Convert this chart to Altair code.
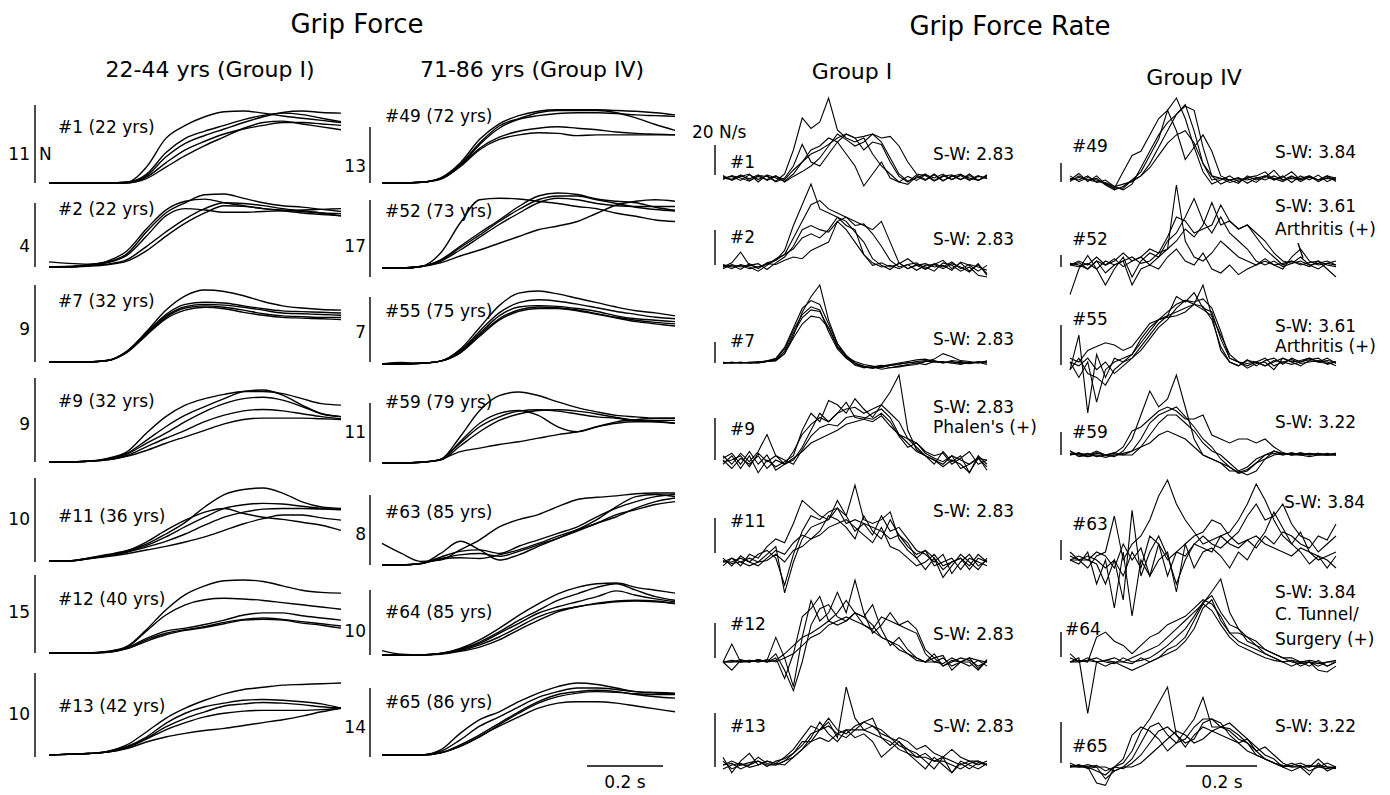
import altair as alt
import pandas as pd

FONT = "DejaVu Sans"
T_END = 0.75
FORCE_DT = 0.05
RATE_DT = 0.025

# ---------------- Grip force traces (normalised to each panel's largest trace) ----------------
gf_s01 = [[0,0,0,0,0.01,0.22,0.62,0.8,0.92,0.99,1.0,0.97,0.93,0.9,0.87,0.84],
          [0,0,0,0,0.01,0.12,0.42,0.62,0.72,0.8,0.88,0.94,0.97,0.95,0.9,0.85],
          [0,0,0,0,0.01,0.1,0.36,0.55,0.66,0.75,0.84,0.92,0.98,1.0,0.98,0.97],
          [0,0,0,0,0.0,0.08,0.28,0.46,0.58,0.68,0.75,0.8,0.84,0.84,0.82,0.8],
          [0,0,0,0,0.0,0.06,0.22,0.38,0.52,0.64,0.76,0.84,0.86,0.82,0.78,0.74]]
gf_s02 = [[0.07,0.05,0.04,0.07,0.18,0.48,0.74,0.88,0.99,1.0,0.94,0.88,0.84,0.82,0.79,0.76],
          [0.0,0.01,0.03,0.08,0.22,0.52,0.78,0.9,0.93,0.88,0.84,0.8,0.78,0.76,0.74,0.73],
          [0.0,0.0,0.02,0.06,0.16,0.42,0.7,0.8,0.78,0.75,0.75,0.76,0.77,0.78,0.79,0.8],
          [0.0,0.0,0.02,0.04,0.1,0.28,0.48,0.66,0.8,0.88,0.87,0.84,0.8,0.77,0.74,0.7],
          [0.0,0.0,0.01,0.03,0.08,0.22,0.42,0.6,0.74,0.84,0.83,0.8,0.77,0.74,0.72,0.7]]
gf_s07 = [[0,0,0,0.02,0.15,0.42,0.72,0.92,1.0,0.98,0.92,0.84,0.78,0.75,0.73,0.72],
          [0,0,0,0.02,0.15,0.4,0.66,0.8,0.83,0.82,0.78,0.74,0.71,0.7,0.69,0.68],
          [0,0,0,0.02,0.14,0.4,0.64,0.77,0.8,0.79,0.76,0.72,0.68,0.67,0.66,0.65],
          [0,0,0,0.02,0.14,0.38,0.62,0.75,0.78,0.76,0.72,0.67,0.64,0.63,0.62,0.62],
          [0,0,0,0.02,0.13,0.37,0.6,0.72,0.76,0.74,0.69,0.65,0.62,0.61,0.6,0.59]]
gf_s09 = [[0,0,0.01,0.05,0.14,0.4,0.63,0.79,0.88,0.94,0.98,0.98,0.95,0.88,0.81,0.79],
          [0,0,0.01,0.04,0.12,0.3,0.49,0.65,0.77,0.88,0.98,1.0,0.93,0.79,0.67,0.63],
          [0,0,0.01,0.04,0.11,0.26,0.4,0.56,0.7,0.81,0.88,0.9,0.86,0.77,0.67,0.63],
          [0,0,0.01,0.03,0.09,0.21,0.33,0.44,0.56,0.65,0.71,0.73,0.71,0.67,0.63,0.6],
          [0,0,0.01,0.03,0.08,0.16,0.26,0.35,0.44,0.53,0.59,0.61,0.61,0.61,0.6,0.59]]
gf_s11 = [[0,0,0.04,0.09,0.14,0.23,0.37,0.53,0.74,0.91,0.98,1.0,0.93,0.81,0.74,0.72],
          [0,0,0.04,0.08,0.14,0.26,0.42,0.56,0.67,0.72,0.65,0.6,0.57,0.53,0.49,0.42],
          [0,0,0.03,0.08,0.13,0.21,0.33,0.47,0.6,0.72,0.77,0.79,0.78,0.75,0.72,0.7],
          [0,0,0.03,0.07,0.12,0.19,0.27,0.37,0.49,0.6,0.67,0.71,0.72,0.72,0.71,0.71],
          [0,0,0.03,0.06,0.1,0.15,0.2,0.26,0.33,0.42,0.51,0.58,0.63,0.63,0.59,0.56]]
gf_s12 = [[0,0,0,0.02,0.09,0.32,0.59,0.8,0.92,0.99,1.0,0.98,0.92,0.86,0.83,0.82],
          [0,0,0,0.02,0.08,0.3,0.52,0.66,0.73,0.75,0.74,0.72,0.69,0.66,0.63,0.6],
          [0,0,0,0.01,0.07,0.2,0.3,0.34,0.39,0.45,0.52,0.55,0.55,0.51,0.48,0.45],
          [0,0,0,0.01,0.06,0.18,0.27,0.32,0.36,0.42,0.46,0.48,0.46,0.43,0.4,0.37],
          [0,0,0,0.01,0.06,0.16,0.25,0.31,0.35,0.4,0.45,0.46,0.45,0.41,0.38,0.34]]
gf_s13 = [[0,0.01,0.02,0.05,0.14,0.32,0.51,0.65,0.76,0.85,0.91,0.94,0.97,0.98,0.99,1.0],
          [0,0.01,0.02,0.05,0.12,0.25,0.44,0.58,0.67,0.72,0.76,0.77,0.76,0.74,0.71,0.65],
          [0,0.01,0.02,0.04,0.11,0.23,0.39,0.51,0.6,0.68,0.71,0.73,0.72,0.7,0.67,0.65],
          [0,0.01,0.02,0.04,0.1,0.22,0.35,0.45,0.53,0.58,0.61,0.62,0.62,0.62,0.63,0.65],
          [0,0.01,0.02,0.04,0.09,0.18,0.25,0.3,0.34,0.37,0.41,0.45,0.49,0.54,0.6,0.65]]
gf_s49 = [[0,0,0.01,0.07,0.27,0.59,0.8,0.91,0.97,0.99,0.99,0.99,0.98,0.97,0.95,0.92],
          [0,0,0.01,0.06,0.25,0.54,0.77,0.87,0.95,0.98,0.98,0.98,0.95,0.88,0.79,0.71],
          [0,0,0.01,0.06,0.23,0.52,0.74,0.86,0.91,0.94,0.95,0.95,0.94,0.92,0.91,0.9],
          [0,0,0.01,0.06,0.23,0.47,0.62,0.7,0.74,0.76,0.74,0.72,0.69,0.67,0.66,0.65],
          [0,0,0.01,0.05,0.22,0.45,0.59,0.65,0.68,0.67,0.64,0.65,0.65,0.65,0.65,0.65]]
gf_s52 = [[0,0,0.02,0.2,0.6,0.91,0.93,0.92,0.89,0.86,0.82,0.79,0.73,0.69,0.64,0.62],
          [0,0,0.02,0.11,0.29,0.47,0.64,0.82,0.96,1.0,0.98,0.92,0.89,0.87,0.81,0.77],
          [0,0,0.02,0.1,0.27,0.44,0.62,0.78,0.91,0.96,0.96,0.91,0.86,0.81,0.78,0.76],
          [0,0,0.02,0.09,0.24,0.41,0.58,0.73,0.87,0.93,0.91,0.86,0.83,0.82,0.82,0.82],
          [0,0,0.02,0.07,0.16,0.24,0.33,0.42,0.51,0.56,0.62,0.73,0.84,0.89,0.91,0.89]]
gf_s55 = [[0,0,0.01,0.04,0.2,0.5,0.8,0.97,1.0,0.96,0.9,0.84,0.78,0.73,0.7,0.66],
          [0,0,0.01,0.04,0.18,0.45,0.7,0.84,0.88,0.86,0.82,0.77,0.72,0.68,0.64,0.62],
          [0,0,0.01,0.04,0.17,0.42,0.66,0.78,0.8,0.79,0.76,0.72,0.66,0.62,0.6,0.58],
          [0,0,0.01,0.04,0.16,0.4,0.62,0.74,0.78,0.77,0.74,0.69,0.64,0.6,0.57,0.55],
          [0,0.02,0.01,0.04,0.15,0.38,0.6,0.72,0.76,0.76,0.73,0.68,0.63,0.58,0.55,0.52]]
gf_s59 = [[0,0,0.01,0.05,0.37,0.74,0.95,1.0,0.95,0.86,0.78,0.72,0.67,0.65,0.63,0.63],
          [0,0,0.01,0.05,0.3,0.56,0.7,0.74,0.67,0.51,0.44,0.51,0.58,0.61,0.63,0.63],
          [0,0,0.01,0.05,0.28,0.51,0.65,0.73,0.75,0.73,0.69,0.65,0.63,0.6,0.6,0.6],
          [0,0,0.01,0.04,0.24,0.44,0.6,0.69,0.74,0.75,0.73,0.69,0.64,0.6,0.58,0.56],
          [0,0,0.01,0.05,0.16,0.21,0.26,0.3,0.35,0.4,0.44,0.51,0.56,0.58,0.58,0.56]]
gf_s63 = [[0.3,0.16,0.05,0.07,0.21,0.35,0.53,0.63,0.7,0.81,0.91,0.94,0.96,0.99,1.0,1.0],
          [0,0,0.02,0.16,0.33,0.21,0.07,0.14,0.26,0.37,0.49,0.63,0.81,0.95,0.98,0.95],
          [0,0,0.02,0.11,0.19,0.21,0.16,0.26,0.35,0.44,0.53,0.67,0.79,0.88,0.95,0.98],
          [0,0,0.02,0.09,0.14,0.16,0.12,0.19,0.28,0.37,0.47,0.58,0.67,0.79,0.88,0.93],
          [0,0,0.02,0.08,0.1,0.09,0.14,0.21,0.3,0.4,0.49,0.58,0.7,0.77,0.84,0.88]]
gf_s64 = [[0.06,0.01,0,0.02,0.09,0.21,0.37,0.55,0.71,0.85,0.94,0.99,1.0,0.94,0.9,0.86],
          [0,0,0,0.02,0.08,0.18,0.32,0.48,0.62,0.76,0.85,0.94,0.99,0.9,0.81,0.76],
          [0,0,0,0.02,0.07,0.16,0.3,0.44,0.58,0.67,0.74,0.81,0.89,0.83,0.78,0.74],
          [0,0,0,0.02,0.06,0.14,0.25,0.39,0.53,0.62,0.67,0.71,0.74,0.75,0.74,0.72],
          [0,0,0,0.01,0.05,0.11,0.21,0.35,0.48,0.6,0.67,0.72,0.75,0.76,0.75,0.71]]
gf_s65 = [[0,0,0,0.07,0.3,0.49,0.6,0.74,0.86,0.95,1.0,0.98,0.93,0.88,0.86,0.85],
          [0,0,0,0.05,0.21,0.4,0.53,0.67,0.8,0.88,0.93,0.93,0.91,0.88,0.87,0.86],
          [0,0,0,0.03,0.14,0.28,0.44,0.6,0.74,0.84,0.88,0.9,0.88,0.84,0.81,0.79],
          [0,0,0,0.03,0.12,0.26,0.4,0.53,0.65,0.72,0.74,0.74,0.72,0.68,0.64,0.6],
          [0,0,0,0.03,0.12,0.25,0.42,0.58,0.72,0.81,0.86,0.88,0.87,0.85,0.84,0.84]]

# ---------------- Grip force rate traces (normalised) ----------------
rate_s01 = [[0.0,0.02,-0.03,0.04,-0.02,0.03,-0.04,0.05,0.35,0.75,0.62,0.7,1.0,0.6,0.5,0.45,0.5,0.3,0.15,0.05,-0.05,0.02,-0.03,0.04,0.0,0.05,-0.02,0.03,-0.03,0.02,0.0],
            [0.02,-0.02,0.03,-0.01,0.04,-0.03,0.02,-0.02,0.1,0.2,0.3,0.35,0.42,0.5,0.55,0.5,0.52,0.55,0.5,0.52,0.4,0.2,0.05,0.03,-0.04,0.02,0.04,-0.02,0.03,-0.03,0.02],
            [-0.02,0.03,0.0,-0.04,0.03,0.02,-0.05,0.0,0.15,0.42,0.2,0.15,0.3,0.45,0.55,0.5,0.35,0.45,0.42,0.2,0.02,-0.05,0.04,-0.02,0.05,-0.03,0.02,0.05,-0.02,0.03,-0.01],
            [0.03,-0.03,0.02,0.05,-0.05,0.04,0.0,-0.04,0.05,0.2,0.35,0.4,0.5,0.45,0.3,0.15,-0.1,0.05,0.2,0.0,-0.05,-0.08,0.02,-0.03,0.04,-0.04,0.03,-0.02,0.05,-0.03,0.04],
            [0.0,-0.02,0.04,-0.03,0.02,-0.02,0.03,-0.05,0.02,0.08,0.15,0.25,0.4,0.55,0.48,0.4,0.45,0.55,0.45,0.25,0.05,-0.04,0.0,0.05,-0.03,0.03,-0.02,0.04,0.0,-0.03,0.03]]
rate_s02 = [[0.0,0.05,0.18,0.02,0.0,0.03,0.08,0.2,0.5,0.75,1.0,0.7,0.65,0.6,0.5,0.45,0.15,0.02,0.05,0.0,0.04,0.1,0.02,-0.03,0.03,0.08,-0.02,0.05,-0.05,0.03,-0.08],
            [0.02,-0.02,0.03,0.0,-0.05,0.02,0.1,0.15,0.35,0.55,0.75,0.8,0.7,0.65,0.6,0.55,0.5,0.45,0.55,0.3,0.05,-0.02,0.03,0.0,-0.05,0.05,0.02,-0.05,0.0,-0.1,-0.12],
            [-0.02,0.03,0.0,0.02,0.04,-0.03,0.05,0.12,0.25,0.45,0.5,0.45,0.42,0.55,0.6,0.5,0.52,0.4,0.25,0.08,0.0,0.03,-0.04,0.02,0.03,-0.02,0.04,0.0,-0.06,0.04,-0.1],
            [0.0,0.02,-0.03,0.04,-0.02,0.05,0.08,0.15,0.22,0.35,0.4,0.35,0.45,0.6,0.55,0.42,0.3,0.1,0.02,-0.03,0.05,-0.02,0.02,0.04,0.0,0.02,-0.04,0.06,0.02,-0.05,0.02],
            [0.03,0.0,0.02,-0.02,0.0,0.04,0.03,0.08,0.12,0.1,0.2,0.25,0.3,0.55,0.45,0.3,0.15,0.05,0.0,0.02,-0.02,0.03,0.05,-0.02,0.04,0.0,0.06,-0.02,0.03,0.0,-0.04]]
rate_s07 = [[0,0.01,0,0.01,0.02,0.02,0.03,0.12,0.35,0.65,0.85,1.0,0.55,0.25,0.08,-0.03,-0.06,-0.05,-0.08,-0.06,-0.05,-0.03,-0.02,0.02,0.05,0.12,0.08,0.03,0.02,0.0,0.03],
            [0,0.0,0.01,0.0,0.01,0.03,0.06,0.2,0.45,0.7,0.8,0.75,0.5,0.25,0.1,0.0,-0.06,-0.05,-0.03,-0.06,-0.04,-0.02,0.0,-0.02,0.02,0.0,0.03,0.02,0.0,0.01,-0.02],
            [0.01,0.0,0.0,0.01,0.0,0.02,0.05,0.18,0.42,0.62,0.72,0.68,0.4,0.18,0.06,-0.02,-0.05,-0.07,-0.04,-0.02,0.0,0.02,0.04,0.05,0.02,0.01,0.0,-0.02,0.01,0.0,0.02],
            [0,0.01,0.0,0.0,0.01,0.02,0.04,0.15,0.38,0.58,0.68,0.66,0.45,0.2,0.08,0.0,-0.04,-0.06,-0.05,-0.03,-0.01,0.0,0.02,0.03,0.01,0.02,0.0,0.01,-0.01,0.01,0.0],
            [0,0.0,0.01,0.0,0.0,0.02,0.03,0.12,0.32,0.5,0.6,0.58,0.45,0.22,0.08,0.02,-0.02,-0.04,-0.06,-0.03,-0.02,0.01,0.0,0.02,0.03,0.0,0.02,-0.01,0.0,0.02,0.01]]
rate_s09 = [[0.05,-0.05,0.08,-0.02,0.1,0.3,0.05,-0.05,0.1,0.3,0.42,0.5,0.45,0.55,0.6,0.62,0.55,0.6,0.65,0.8,1.0,0.35,0.12,0.05,0.0,-0.05,0.05,-0.1,-0.05,0.03,-0.12],
            [-0.05,0.05,-0.1,0.05,-0.15,0.0,-0.08,-0.02,0.05,0.35,0.55,0.45,0.7,0.65,0.55,0.72,0.6,0.5,0.65,0.55,0.45,0.25,0.2,0.1,0.05,0.08,-0.05,0.02,0.1,-0.05,0.0],
            [0.02,0.08,-0.05,0.1,-0.05,0.06,-0.12,-0.05,0.0,0.15,0.35,0.55,0.45,0.55,0.68,0.5,0.48,0.55,0.6,0.5,0.3,0.25,0.15,0.05,-0.05,0.1,-0.02,0.05,-0.15,0.05,-0.05],
            [-0.02,0.0,0.05,-0.08,0.08,-0.02,0.05,0.0,-0.05,0.12,0.28,0.38,0.42,0.4,0.5,0.52,0.5,0.48,0.55,0.45,0.28,0.15,0.2,0.08,0.02,-0.02,0.05,0.0,-0.05,0.02,-0.08],
            [0.0,-0.1,0.02,-0.05,0.05,-0.1,0.0,-0.05,0.02,0.1,0.2,0.25,0.3,0.35,0.42,0.45,0.48,0.45,0.52,0.4,0.3,0.2,0.1,0.05,0.0,-0.08,0.0,-0.05,-0.15,0.02,0.0]]
rate_s11 = [[0.0,0.05,-0.05,0.1,0.05,0.2,0.3,0.25,0.5,0.8,0.7,0.6,0.55,0.7,0.5,0.55,0.5,0.45,0.4,0.3,0.35,0.2,0.1,0.15,0.05,-0.1,0.0,0.05,-0.05,0.1,0.0],
            [0.05,-0.05,0.08,0.0,0.1,0.15,0.05,-0.3,0.1,0.4,0.6,0.55,0.65,0.7,0.6,1.0,0.55,0.5,0.55,0.65,0.3,0.15,0.05,-0.1,0.05,-0.2,-0.05,0.1,0.0,-0.1,0.05],
            [-0.05,0.05,0.0,-0.05,0.0,0.1,0.2,-0.4,0.0,0.3,0.45,0.5,0.55,0.8,0.6,0.4,0.5,0.35,0.6,0.4,0.45,0.3,0.15,0.1,0.0,0.1,-0.15,0.0,0.1,-0.05,0.02],
            [0.0,0.0,0.05,0.0,-0.05,0.05,0.15,0.1,0.25,0.35,0.3,0.4,0.6,0.55,0.45,0.3,0.6,0.4,0.3,0.55,0.35,0.25,0.05,0.15,-0.05,0.0,0.05,-0.1,0.05,0.0,-0.05],
            [0.02,-0.02,0.0,0.05,0.0,0.02,0.1,0.0,0.15,0.2,0.3,0.35,0.45,0.5,0.55,0.45,0.35,0.25,0.45,0.2,0.15,0.05,-0.05,0.0,0.1,-0.05,0.0,0.05,-0.1,0.05,0.0]]
rate_s12 = [[0.0,0.22,0.0,0.02,0.0,0.02,0.3,0.05,-0.3,0.3,0.75,0.5,0.6,0.85,0.6,1.0,0.6,0.35,0.45,0.6,0.45,0.4,0.35,0.1,0.0,0.05,-0.05,0.0,0.05,-0.08,0.03],
            [0.0,-0.1,0.02,0.0,0.03,0.0,0.05,-0.2,0.1,0.55,0.65,0.8,0.5,0.6,0.75,0.6,0.55,0.7,0.4,0.2,0.3,0.15,0.05,0.0,0.1,-0.05,0.0,0.05,0.02,-0.05,0.0],
            [0.0,0.0,0.03,0.0,0.02,0.0,0.1,-0.1,-0.35,0.0,0.45,0.65,0.7,0.55,0.5,0.6,0.45,0.4,0.55,0.5,0.45,0.5,0.4,0.15,0.05,0.08,-0.1,0.0,0.05,0.02,-0.05],
            [0.0,0.0,0.0,0.02,0.0,0.03,0.0,0.05,0.1,0.2,0.3,0.35,0.45,0.5,0.55,0.5,0.45,0.38,0.3,0.25,0.2,0.1,0.05,0.0,0.0,-0.02,0.05,0.0,-0.05,0.02,0.0],
            [0.0,0.02,0.0,0.0,0.03,0.0,0.02,0.1,0.2,0.3,0.35,0.42,0.5,0.45,0.5,0.6,0.55,0.45,0.3,0.25,0.15,0.1,0.02,0.0,0.05,-0.05,0.02,0.0,0.0,-0.1,0.02]]
rate_s13 = [[0.1,-0.1,0.05,0.15,0.0,0.05,0.02,0.1,0.2,0.35,0.5,0.45,0.55,0.35,1.0,0.6,0.45,0.5,0.45,0.35,0.3,0.2,0.15,0.05,-0.05,0.1,-0.1,0.02,-0.05,0.03,0.0],
            [0.0,0.05,0.0,0.0,0.1,0.02,0.0,0.05,0.15,0.3,0.3,0.45,0.6,0.45,0.4,0.5,0.55,0.6,0.35,0.25,0.35,0.3,0.2,0.25,0.15,0.1,0.2,0.1,0.05,0.05,0.0],
            [-0.05,0.0,0.02,-0.03,0.0,0.05,0.02,0.0,0.1,0.2,0.35,0.55,0.4,0.3,0.45,0.35,0.4,0.3,0.1,0.2,0.3,0.15,0.05,-0.05,0.1,0.0,-0.1,0.05,0.0,-0.05,0.02],
            [0.05,-0.05,0.0,0.03,0.05,-0.02,0.05,0.08,0.15,0.25,0.4,0.45,0.5,0.4,0.45,0.45,0.55,0.5,0.4,0.35,0.25,0.2,0.1,0.1,0.05,0.05,0.0,-0.05,0.02,0.05,0.0],
            [0.0,0.02,-0.05,0.0,0.05,0.0,0.0,0.05,0.1,0.2,0.3,0.35,0.3,0.4,0.35,0.45,0.45,0.4,0.35,0.3,0.2,0.15,0.1,0.15,0.05,0.1,0.05,0.0,0.05,0.0,0.05]]
rate_s49 = [[0.0,0.08,-0.02,0.05,-0.05,-0.1,0.1,0.3,0.35,0.55,0.75,0.85,1.0,0.75,0.4,0.1,-0.05,0.0,0.05,-0.02,0.03,0.05,0.1,0.0,0.05,-0.03,0.05,0.0,0.06,-0.02,0.03],
            [0.02,0.0,0.05,-0.03,0.0,-0.08,-0.12,-0.05,0.15,0.35,0.55,0.7,0.8,0.9,0.85,0.4,0.05,-0.05,0.0,0.03,-0.04,0.02,0.05,0.02,-0.02,0.04,0.02,0.05,-0.02,0.03,0.0],
            [-0.02,0.05,0.0,0.02,-0.06,-0.12,-0.08,0.0,0.1,0.3,0.5,0.85,0.6,0.25,0.4,0.55,0.35,0.05,0.0,-0.04,0.05,0.0,0.03,0.12,0.0,0.05,-0.02,0.04,0.0,0.05,0.02],
            [0.05,-0.02,0.03,0.0,-0.04,-0.1,-0.1,0.0,0.05,0.2,0.4,0.6,0.8,0.92,0.6,0.2,0.0,0.02,-0.03,0.0,0.02,-0.03,0.05,0.0,0.03,0.1,0.0,0.03,0.0,0.05,-0.02],
            [0.0,0.03,0.0,-0.02,-0.03,-0.08,-0.05,-0.02,0.05,0.15,0.3,0.45,0.55,0.6,0.45,0.2,0.05,0.02,0.0,0.02,0.0,0.03,0.0,0.05,0.0,0.02,0.0,0.05,0.0,0.02,0.0]]
rate_s52 = [[0.0,-0.02,0.02,-0.05,0.05,0.0,0.05,0.1,0.02,0.05,0.15,0.2,1.0,0.3,0.1,0.05,0.15,0.3,0.2,0.1,0.05,0.0,0.08,0.0,0.02,0.05,0.0,0.03,0.05,0.0,-0.02],
            [0.0,0.03,-0.05,0.05,0.0,0.08,-0.02,0.05,0.1,0.0,0.1,0.3,0.4,0.6,0.83,0.55,0.4,0.6,0.4,0.3,0.2,0.05,0.0,0.05,-0.02,0.02,0.05,0.0,-0.05,0.02,0.0],
            [-0.37,-0.05,0.12,-0.05,-0.25,-0.05,0.1,-0.15,0.05,0.15,0.1,0.2,0.3,0.45,0.35,0.5,0.78,0.5,0.55,0.45,0.5,0.35,0.2,0.1,0.0,0.05,0.02,-0.02,0.05,-0.05,-0.15],
            [0.0,0.05,0.0,0.1,0.0,0.05,0.15,0.05,0.1,0.2,0.15,0.35,0.6,0.55,0.4,0.45,0.5,0.75,0.55,0.45,0.5,0.4,0.3,0.15,0.05,0.02,0.1,0.0,0.02,0.05,0.0],
            [0.02,0.0,-0.05,0.05,-0.1,0.0,0.05,-0.25,-0.05,0.0,-0.05,0.1,0.2,0.05,0.0,0.15,-0.05,-0.1,0.0,-0.12,-0.05,0.0,0.05,0.0,-0.05,0.1,0.2,0.05,0.0,0.02,0.05]]
rate_s55 = [[-0.1,0.35,-0.66,0.1,-0.2,0.05,0.0,0.05,0.15,0.3,0.45,0.55,0.7,0.8,0.75,1.0,0.6,0.15,0.0,-0.05,0.03,-0.05,0.02,0.05,-0.03,0.05,0.0,0.03,0.05,-0.03,0.0],
            [0.0,-0.2,0.0,-0.52,-0.1,0.0,0.05,0.1,0.25,0.4,0.55,0.6,0.85,0.78,0.9,0.7,0.65,0.3,0.05,0.0,-0.08,-0.02,0.0,-0.1,0.05,0.0,-0.05,0.02,0.0,0.05,-0.02],
            [0.05,0.0,0.15,0.2,0.25,0.22,0.15,0.2,0.35,0.5,0.55,0.58,0.6,0.65,0.75,0.72,0.55,0.2,0.0,-0.05,0.02,0.0,-0.05,0.0,0.05,0.0,0.02,0.05,0.0,0.02,0.0],
            [-0.1,0.05,-0.15,-0.2,-0.3,-0.1,0.0,0.1,0.3,0.45,0.55,0.65,0.75,0.8,0.78,0.82,0.7,0.4,0.05,0.0,-0.05,0.0,0.05,-0.05,0.0,0.03,-0.02,0.0,0.02,0.0,-0.05],
            [0.0,-0.05,0.05,-0.1,0.0,-0.15,-0.05,0.05,0.2,0.35,0.5,0.6,0.65,0.7,0.75,0.68,0.6,0.35,0.1,0.0,-0.02,0.0,-0.05,0.02,0.0,-0.03,0.0,0.05,0.0,-0.02,0.0]]
rate_s59 = [[0.0,0.02,0.0,0.05,0.0,-0.02,0.05,0.2,0.5,0.8,0.6,0.7,1.0,0.6,0.2,0.0,-0.05,-0.1,-0.15,-0.22,-0.18,-0.1,-0.05,0.0,0.02,0.0,0.03,0.0,0.02,0.0,0.0],
            [0.05,-0.02,0.0,0.03,0.0,0.02,0.1,0.3,0.35,0.45,0.55,0.6,0.55,0.45,0.45,0.5,0.25,0.2,0.15,0.2,0.2,0.15,0.2,0.1,0.03,0.0,0.02,0.0,0.02,0.0,0.0],
            [0.0,0.03,-0.02,0.0,-0.03,0.0,0.0,0.05,0.2,0.4,0.5,0.55,0.6,0.48,0.35,0.2,0.1,-0.05,-0.15,-0.23,-0.2,-0.1,0.0,0.05,0.02,0.0,0.0,0.02,0.0,0.0,0.02],
            [0.02,0.0,0.02,-0.02,0.0,0.03,0.0,0.0,0.1,0.25,0.4,0.5,0.5,0.4,0.3,0.15,0.05,0.0,-0.1,-0.2,-0.25,-0.2,-0.05,0.05,0.0,0.02,0.0,-0.02,0.0,0.02,0.0],
            [0.05,0.0,-0.02,0.02,0.0,0.0,0.02,0.05,0.1,0.15,0.25,0.3,0.25,0.2,0.1,0.0,-0.05,-0.1,-0.2,-0.2,-0.15,-0.05,0.0,0.02,0.0,0.03,0.0,0.02,0.0,0.0,0.02]]
rate_s63 = [[0.1,0.0,-0.1,0.05,0.1,0.55,0.0,0.2,0.3,0.5,0.8,1.0,0.7,0.5,0.35,0.2,0.25,0.3,0.2,0.15,0.25,0.3,0.2,0.15,0.1,0.05,0.15,0.1,0.0,0.05,0.1],
            [0.0,0.05,0.0,-0.05,-0.3,0.0,-0.5,0.62,-0.2,0.1,0.3,0.05,-0.3,0.0,0.2,0.15,0.1,0.3,0.35,0.5,0.7,0.95,0.75,0.5,0.3,0.2,0.35,0.1,0.05,0.0,-0.1],
            [0.0,-0.05,0.1,-0.3,0.0,-0.6,0.1,-0.7,0.0,-0.2,0.2,0.0,0.1,0.05,0.2,0.3,0.2,0.15,0.25,0.35,0.55,0.7,0.5,0.55,0.7,0.45,0.3,0.25,0.1,0.2,0.3],
            [0.05,0.0,0.0,0.1,0.05,-0.1,0.2,0.0,0.15,-0.2,0.0,0.1,-0.4,0.2,-0.1,0.1,0.15,0.05,-0.1,0.1,0.0,0.2,0.35,0.6,0.4,0.2,0.1,-0.05,0.05,-0.1,0.05],
            [0.0,0.0,0.05,0.0,-0.1,0.0,-0.2,0.1,-0.1,0.3,0.2,-0.2,0.1,0.2,0.3,0.35,0.5,0.45,0.3,0.2,0.25,0.15,0.3,0.2,0.35,0.3,0.2,0.15,0.3,0.25,0.45]]
rate_s64 = [[0.0,0.05,-0.62,0.0,0.02,0.05,0.0,0.05,0.1,0.15,0.2,0.3,0.4,0.5,0.6,0.7,0.85,1.0,0.6,0.4,0.3,0.25,0.15,0.1,0.05,0.05,0.0,-0.05,0.02,-0.05,0.0],
            [0.0,0.02,0.0,0.3,0.36,0.25,0.2,0.1,0.2,0.3,0.35,0.45,0.5,0.55,0.65,0.75,0.7,0.55,0.35,0.35,0.3,0.2,0.15,0.1,0.05,0.0,-0.02,0.0,-0.05,0.0,0.0],
            [0.1,0.0,0.02,0.05,0.0,-0.02,0.05,0.0,0.02,0.05,0.12,0.2,0.3,0.4,0.55,0.72,0.8,0.6,0.45,0.4,0.25,0.2,0.1,0.05,0.0,0.02,-0.05,0.0,-0.1,-0.12,-0.05],
            [0.0,0.0,0.05,0.0,-0.05,0.0,0.0,-0.02,0.05,0.0,0.05,0.1,0.15,0.25,0.4,0.65,0.75,0.5,0.35,0.25,0.2,0.15,0.1,0.05,0.0,0.02,0.0,0.0,-0.02,0.0,0.02],
            [0.05,0.0,0.02,0.0,0.02,0.0,-0.05,-0.1,-0.05,0.0,0.05,0.15,0.2,0.3,0.5,0.7,0.62,0.45,0.3,0.2,0.15,0.1,0.05,0.02,0.0,-0.05,0.0,0.02,0.0,-0.05,0.0]]
rate_s65 = [[0.0,0.02,0.0,-0.05,-0.1,0.0,0.05,0.2,0.45,0.6,0.8,1.0,0.4,0.25,0.4,0.5,0.45,0.4,0.35,0.3,0.2,0.15,0.1,0.05,0.0,0.02,0.05,0.0,0.1,0.0,-0.02],
            [0.02,0.0,0.0,-0.2,-0.23,0.0,0.1,0.4,0.5,0.45,0.35,0.2,0.3,0.45,0.6,0.87,0.5,0.5,0.55,0.45,0.35,0.25,0.15,0.1,0.0,-0.05,0.0,-0.1,0.05,-0.05,0.0],
            [0.0,0.03,-0.02,0.0,-0.15,-0.05,0.0,0.1,0.3,0.5,0.55,0.4,0.3,0.35,0.5,0.6,0.6,0.55,0.4,0.3,0.35,0.2,0.25,0.15,0.05,0.0,0.02,-0.05,0.0,0.05,0.0],
            [0.05,0.0,0.0,0.02,-0.05,0.0,-0.02,0.05,0.15,0.3,0.45,0.5,0.4,0.3,0.35,0.55,0.6,0.5,0.45,0.35,0.3,0.15,0.1,0.05,0.0,0.05,0.0,0.0,0.02,0.0,0.0],
            [0.0,0.0,0.03,0.0,0.0,-0.05,0.0,0.0,0.05,0.15,0.25,0.35,0.45,0.4,0.3,0.35,0.45,0.5,0.48,0.4,0.3,0.2,0.1,0.05,0.02,0.0,0.0,0.02,0.0,-0.02,0.0]]

# ---------------- Labels ----------------
subjects_g1 = ["#1", "#2", "#7", "#9", "#11", "#12", "#13"]
ages_g1 = [22, 22, 32, 32, 36, 40, 42]
subjects_g4 = ["#49", "#52", "#55", "#59", "#63", "#64", "#65"]
ages_g4 = [72, 73, 75, 79, 85, 85, 86]
force_scale_g1 = ["11", "4", "9", "9", "10", "15", "10"]
force_scale_g4 = ["13", "17", "7", "11", "8", "10", "14"]
sw_g1 = ["S-W: 2.83"] * 7
sw_g4 = ["S-W: 3.84", "S-W: 3.61", "S-W: 3.61", "S-W: 3.22", "S-W: 3.84", "S-W: 3.84", "S-W: 3.22"]
titles = ["Grip Force", "Grip Force Rate"]
subtitles = ["22-44 yrs (Group I)", "71-86 yrs (Group IV)", "Group I", "Group IV"]

force_g1 = [gf_s01, gf_s02, gf_s07, gf_s09, gf_s11, gf_s12, gf_s13]
force_g4 = [gf_s49, gf_s52, gf_s55, gf_s59, gf_s63, gf_s64, gf_s65]
rate_g1 = [rate_s01, rate_s02, rate_s07, rate_s09, rate_s11, rate_s12, rate_s13]
rate_g4 = [rate_s49, rate_s52, rate_s55, rate_s59, rate_s63, rate_s64, rate_s65]

# ---------------- Layout (page pixels) ----------------
TOP, HEADER_BOTTOM = 8, 92
ROW_BOTTOMS = [190, 275, 372, 470, 570, 668, 787]
ROW_TOPS = [HEADER_BOTTOM] + ROW_BOTTOMS[:6]
COLS = {
    "gf1": dict(left=8, right=345, x0=49, x1=341,
                base=[183, 267, 362, 462, 561, 653, 755], amp=[72, 73, 72, 72, 73, 73, 72]),
    "gf4": dict(left=345, right=690, x0=382, x1=675,
                base=[183, 268, 364, 463, 565, 655, 755], amp=[74, 75, 73, 71, 72, 72, 72]),
    "gr1": dict(left=690, right=1050, x0=723, x1=987,
                base=[178, 267, 363, 460, 562, 662, 765], amp=[80, 83, 78, 85, 77, 82, 78]),
    "gr4": dict(left=1050, right=1382, x0=1070, x1=1336,
                base=[180, 265, 362, 455, 560, 662, 767], amp=[82, 80, 77, 80, 80, 83, 80]),
}


def tx(cid, px):
    c = COLS[cid]
    return (px - c["x0"]) / (c["x1"] - c["x0"]) * T_END


def vy(cid, r, py):
    c = COLS[cid]
    return (c["base"][r] - py) / c["amp"][r]


def panel(cid, r, series, dt, sw, interp, texts, rules):
    c = COLS[cid]
    top, bottom = ROW_TOPS[r], ROW_BOTTOMS[r]
    xs = alt.Scale(domain=[tx(cid, c["left"]), tx(cid, c["right"])], nice=False, zero=False)
    ys = alt.Scale(domain=[vy(cid, r, bottom), vy(cid, r, top)], nice=False, zero=False)
    X = alt.X("t:Q", scale=xs, axis=None)
    Y = alt.Y("v:Q", scale=ys, axis=None)
    rows = []
    for k, tr in enumerate(series):
        for i, val in enumerate(tr):
            rows.append({"trace": k, "t": round(i * dt, 4), "v": val})
    layers = [alt.Chart(pd.DataFrame(rows)).mark_line(
        color="black", strokeWidth=sw, interpolate=interp).encode(x=X, y=Y, detail="trace:N")]
    rdf = pd.DataFrame([{"t": tx(cid, a), "t2": tx(cid, b), "v": vy(cid, r, p), "v2": vy(cid, r, q)}
                        for (a, p, b, q) in rules])
    layers.append(alt.Chart(rdf).mark_rule(color="black", strokeWidth=1.4).encode(
        x=X, x2="t2", y=Y, y2="v2"))
    for align in ("left", "right", "center"):
        sub = [{"t": tx(cid, px), "v": vy(cid, r, py), "label": lab} for (px, py, lab, al) in texts if al == align]
        if sub:
            layers.append(alt.Chart(pd.DataFrame(sub)).mark_text(
                align=align, baseline="middle", font=FONT, fontSize=17, color="black").encode(
                x=X, y=Y, text="label:N"))
    return alt.layer(*layers).properties(width=c["right"] - c["left"], height=bottom - top)


def header(cid, items):
    c = COLS[cid]
    layers = []
    for (px, py, lab, size) in items:
        layers.append(alt.Chart(pd.DataFrame({"label": [lab]})).mark_text(
            align="center", baseline="middle", font=FONT, fontSize=size, color="black").encode(
            x=alt.value(px - c["left"]), y=alt.value(py - TOP), text="label:N"))
    return alt.layer(*layers).properties(width=c["right"] - c["left"], height=HEADER_BOTTOM - TOP)


# --- column 1: grip force, group I
gf1_lab_y = [128, 210, 302, 402, 517, 600, 707]
gf1_val_y = [155, 247, 330, 425, 520, 613, 715]
gf1_bar = [(105, 183), (203, 267), (285, 362), (378, 462), (478, 562), (575, 653), (673, 757)]
col1 = [header("gf1", [(210, 70, subtitles[0], 22)])]
for r in range(7):
    texts = [(58, gf1_lab_y[r], f"{subjects_g1[r]} ({ages_g1[r]} yrs)", "left"),
             (30, gf1_val_y[r], force_scale_g1[r], "right")]
    if r == 0:
        texts.append((39, gf1_val_y[r], "N", "left"))
    rules = [(35, gf1_bar[r][0], 35, gf1_bar[r][1])]
    col1.append(panel("gf1", r, force_g1[r], FORCE_DT, 1.4, "monotone", texts, rules))

# --- column 2: grip force, group IV
gf4_lab_y = [117, 212, 312, 403, 513, 613, 703]
gf4_val_y = [167, 247, 333, 433, 535, 632, 728]
gf4_bar = [(127, 183), (200, 277), (297, 362), (403, 462), (495, 565), (590, 655), (688, 757)]
col2 = [header("gf4", [(357, 25, titles[0], 26), (532, 70, subtitles[1], 22)])]
for r in range(7):
    texts = [(385, gf4_lab_y[r], f"{subjects_g4[r]} ({ages_g4[r]} yrs)", "left"),
             (366, gf4_val_y[r], force_scale_g4[r], "right")]
    rules = [(370, gf4_bar[r][0], 370, gf4_bar[r][1])]
    if r == 6:
        rules.append((587, 766, 663, 766))
        texts.append((625, 783, "0.2 s", "center"))
    col2.append(panel("gf4", r, force_g4[r], FORCE_DT, 1.4, "monotone", texts, rules))

# --- column 3: grip force rate, group I
gr1_lab_y = [163, 238, 342, 430, 522, 625, 727]
gr1_sw_y = [155, 240, 340, 408, 512, 635, 727]
gr1_bar = [(145, 175), (230, 265), (342, 363), (418, 460), (518, 553), (623, 658), (713, 767)]
col3 = [header("gr1", [(1010, 27, titles[1], 26), (852, 72, subtitles[2], 22)])]
for r in range(7):
    texts = [(730, gr1_lab_y[r], subjects_g1[r], "left"),
             (933, gr1_sw_y[r], sw_g1[r], "left")]
    if r == 0:
        texts.append((692, 133, "20 N/s", "left"))
    if r == 3:
        texts.append((933, 428, "Phalen's (+)", "left"))
    rules = [(715, gr1_bar[r][0], 715, gr1_bar[r][1])]
    col3.append(panel("gr1", r, rate_g1[r], RATE_DT, 1.1, "linear", texts, rules))

# --- column 4: grip force rate, group IV
gr4_lab = [(1072, 147), (1072, 240), (1072, 320), (1072, 433), (1072, 525), (1065, 630), (1072, 747)]
gr4_sw = [(1275, 153), (1275, 207), (1275, 327), (1275, 423), (1284, 503), (1275, 593), (1275, 727)]
gr4_bar = [(163, 182), (255, 267), (325, 365), (432, 455), (540, 560), (632, 657), (722, 763)]
col4 = [header("gr4", [(1194, 78, subtitles[3], 22)])]
for r in range(7):
    texts = [(gr4_lab[r][0], gr4_lab[r][1], subjects_g4[r], "left"),
             (gr4_sw[r][0], gr4_sw[r][1], sw_g4[r], "left")]
    rules = [(1061, gr4_bar[r][0], 1061, gr4_bar[r][1])]
    if r == 1:
        texts.append((1275, 230, "Arthritis (+)", "left"))
        rules.append((1298, 243, 1303, 258))
    if r == 2:
        texts.append((1275, 347, "Arthritis (+)", "left"))
    if r == 5:
        texts.append((1275, 615, "C. Tunnel/", "left"))
        texts.append((1275, 640, "Surgery (+)", "left"))
    if r == 6:
        rules.append((1186, 766, 1257, 766))
        texts.append((1222, 783, "0.2 s", "center"))
    col4.append(panel("gr4", r, rate_g4[r], RATE_DT, 1.1, "linear", texts, rules))

# grid in row-major order: header row, then the seven subject rows
cells = []
for r in range(8):
    for col in (col1, col2, col3, col4):
        cells.append(col[r])

chart = alt.concat(*cells, columns=4, spacing=0, bounds="flush").properties(
    padding=0, background="white").configure_view(stroke=None)

chart.save("out.html", embed_options={"renderer": "svg", "actions": False})
